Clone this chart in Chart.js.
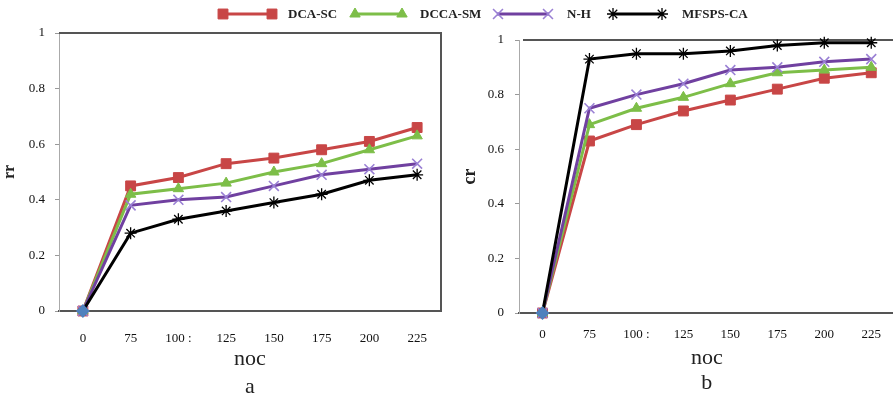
<!DOCTYPE html>
<html>
<head>
<meta charset="utf-8">
<script src="https://cdn.jsdelivr.net/npm/chart.js@4.4.1/dist/chart.umd.min.js"></script>
<style>
  html, body { margin:0; padding:0; background:#fff; width:893px; height:398px; overflow:hidden; position:relative; }
  canvas { position:absolute; }
  #cLeft { left:0; top:0; }
  #cRight { left:450px; top:0; }
  #legend { left:0; top:0; }
</style>
</head>
<body>
<canvas id="cLeft" width="450" height="402"></canvas>
<canvas id="cRight" width="445" height="398"></canvas>
<canvas id="legend" width="893" height="30"></canvas>
<script>
// ---- data ----
const xTickLabels = ['0', '75', '100 :', '125', '150', '175', '200', '225'];
const seriesNames = ['DCA-SC', 'DCCA-SM', 'N-H', 'MFSPS-CA'];
// panel a : rr
const rrDCASC  = [0, 0.45, 0.48, 0.53, 0.55, 0.58, 0.61, 0.66];
const rrDCCASM = [0, 0.42, 0.44, 0.46, 0.50, 0.53, 0.58, 0.63];
const rrNH     = [0, 0.38, 0.40, 0.41, 0.45, 0.49, 0.51, 0.53];
const rrMFSPS  = [0, 0.28, 0.33, 0.36, 0.39, 0.42, 0.47, 0.49];
// panel b : cr
const crDCASC  = [0, 0.63, 0.69, 0.74, 0.78, 0.82, 0.86, 0.88];
const crDCCASM = [0, 0.69, 0.75, 0.79, 0.84, 0.88, 0.89, 0.90];
const crNH     = [0, 0.75, 0.80, 0.84, 0.89, 0.90, 0.92, 0.93];
const crMFSPS  = [0, 0.93, 0.95, 0.95, 0.96, 0.98, 0.99, 0.99];
const yMin = 0, yMax = 1, yStep = 0.2;
const panelTitles = ['a', 'b'];
const xTitle = 'noc';
const yTitles = ['rr', 'cr'];

// ---- styles ----
const SERIF = '"Liberation Serif", "Times New Roman", serif';
const styles = [
  { line: '#C84646', fill: '#C84646', point: 'rect', radius: 7, bw: 1 },
  { line: '#7DBE48', fill: '#7DBE48', point: 'triangle', radius: 6, bw: 1 },
  { line: '#7040A0', fill: '#9A80D4', point: 'crossRot', radius: 7, bw: 1.6 },
  { line: '#000000', fill: '#000000', point: 'star', radius: 6, bw: 1.3 }
];

function makeDatasets(arrs) {
  return arrs.map((data, i) => {
    const s = styles[i];
    const isLast = i === arrs.length - 1;
    return {
      label: seriesNames[i],
      data: data,
      borderColor: s.line,
      backgroundColor: s.fill,
      borderWidth: 3,
      tension: 0,
      clip: false,
      order: arrs.length - i,
      pointStyle: isLast ? (ctx => ctx.dataIndex === 0 ? 'rectRot' : s.point) : s.point,
      pointRadius: isLast ? (ctx => ctx.dataIndex === 0 ? 6 : s.radius) : s.radius,
      pointBackgroundColor: isLast ? (ctx => ctx.dataIndex === 0 ? '#4F81BD' : s.fill) : s.fill,
      pointBorderColor: isLast ? (ctx => ctx.dataIndex === 0 ? '#4F81BD' : s.fill) : s.fill,
      pointBorderWidth: s.bw
    };
  });
}

const framePlugin = {
  id: 'frame',
  beforeDatasetsDraw(chart, args, opts) {
    const { ctx, chartArea: a } = chart;
    ctx.save();
    ctx.strokeStyle = '#555';
    ctx.lineWidth = 2;
    ctx.beginPath();
    ctx.moveTo(a.left + (opts.topInset || 0), a.top);
    ctx.lineTo(a.right, a.top);
    if (opts.right) ctx.lineTo(a.right, a.bottom);
    ctx.stroke();
    ctx.restore();
  }
};

function makeChart(canvasId, arrs, cfg) {
  return new Chart(document.getElementById(canvasId), {
    type: 'line',
    data: { labels: xTickLabels, datasets: makeDatasets(arrs) },
    options: {
      responsive: false,
      animation: false,
      events: [],
      layout: { autoPadding: false, padding: { top: cfg.top, right: cfg.right, left: 0, bottom: 0 } },
      plugins: {
        legend: { display: false },
        tooltip: { enabled: false },
        frame: { right: cfg.frameRight, topInset: cfg.topInset }
      },
      scales: {
        x: {
          type: 'category',
          offset: true,
          grid: { display: false, drawTicks: false },
          border: { display: true, color: '#555', width: 2 },
          ticks: { color: '#111', font: { family: SERIF, size: 13 }, padding: cfg.xPad, maxRotation: 0, autoSkip: false },
          title: {
            display: true,
            text: [xTitle, cfg.panel],
            color: '#222',
            font: { family: SERIF, size: 22, lineHeight: cfg.titleLH },
            padding: { top: 0, bottom: cfg.titlePB }
          },
          afterFit: s => { s.height = cfg.xH; }
        },
        y: {
          min: yMin, max: yMax,
          grid: { display: true, drawOnChartArea: false, drawTicks: true, tickLength: 4, color: '#999' },
          border: { display: true, color: '#aaa', width: 1 },
          ticks: { stepSize: yStep, color: '#111', font: { family: SERIF, size: 13 }, padding: cfg.yPad,
                   callback: v => String(Math.round(v * 10) / 10) },
          title: {
            display: true,
            text: cfg.yTitle,
            color: '#222',
            font: { family: SERIF, size: cfg.yTitleSize, weight: 'bold' },
            padding: { top: cfg.yTitlePad, bottom: 0 }
          },
          afterFit: s => { s.width = cfg.yW; }
        }
      }
    },
    plugins: [framePlugin]
  });
}

makeChart('cLeft', [rrDCASC, rrDCCASM, rrNH, rrMFSPS], {
  top: 33, right: 9, xH: 91, yW: 59, xPad: 20, yPad: 10, titleLH: 1.3, titlePB: 0,
  yTitle: yTitles[0], yTitleSize: 16, yTitlePad: 0, panel: panelTitles[0], frameRight: true, topInset: 0
});
makeChart('cRight', [crDCASC, crDCCASM, crNH, crMFSPS], {
  top: 40, right: 0, xH: 85, yW: 69, xPad: 14, yPad: 11, titleLH: 1.14, titlePB: 2.5,
  yTitle: yTitles[1], yTitleSize: 18, yTitlePad: 10, panel: panelTitles[1], frameRight: false, topInset: 4
});

// ---- legend (shared, drawn above both panels) ----
(function drawLegend() {
  const c = document.getElementById('legend');
  const ctx = c.getContext('2d');
  const items = [
    { x0: 218, x1: 277, tx: 288 },
    { x0: 350, x1: 407, tx: 420 },
    { x0: 493, x1: 553, tx: 567 },
    { x0: 608, x1: 667, tx: 682 }
  ];
  const y = 14;
  function marker(s, x, yy) {
    ctx.save();
    ctx.fillStyle = s.fill; ctx.strokeStyle = s.fill; ctx.lineWidth = s.bw;
    const r = s.radius;
    ctx.beginPath();
    if (s.point === 'rect') {
      const h = r * Math.SQRT1_2;
      ctx.rect(x - h, yy - h, 2 * h, 2 * h); ctx.fill(); ctx.stroke();
    } else if (s.point === 'triangle') {
      ctx.moveTo(x, yy - r);
      ctx.lineTo(x + r * 0.866, yy + r * 0.5);
      ctx.lineTo(x - r * 0.866, yy + r * 0.5);
      ctx.closePath(); ctx.fill(); ctx.stroke();
    } else if (s.point === 'crossRot' || s.point === 'star') {
      const d = r * Math.SQRT1_2;
      ctx.moveTo(x - d, yy - d); ctx.lineTo(x + d, yy + d);
      ctx.moveTo(x - d, yy + d); ctx.lineTo(x + d, yy - d);
      if (s.point === 'star') {
        ctx.moveTo(x, yy - r); ctx.lineTo(x, yy + r);
        ctx.moveTo(x - r, yy); ctx.lineTo(x + r, yy);
      }
      ctx.stroke();
    }
    ctx.restore();
  }
  items.forEach((it, i) => {
    const s = styles[i];
    ctx.save();
    ctx.strokeStyle = s.line; ctx.lineWidth = 3;
    ctx.beginPath(); ctx.moveTo(it.x0 + 4, y); ctx.lineTo(it.x1 - 4, y); ctx.stroke();
    ctx.restore();
    marker(s, it.x0 + 5, y);
    marker(s, it.x1 - 5, y);
    ctx.fillStyle = '#222';
    ctx.font = 'bold 13px ' + SERIF;
    ctx.textBaseline = 'middle';
    ctx.fillText(seriesNames[i], it.tx, y + 1);
  });
})();
</script>
</body>
</html>
